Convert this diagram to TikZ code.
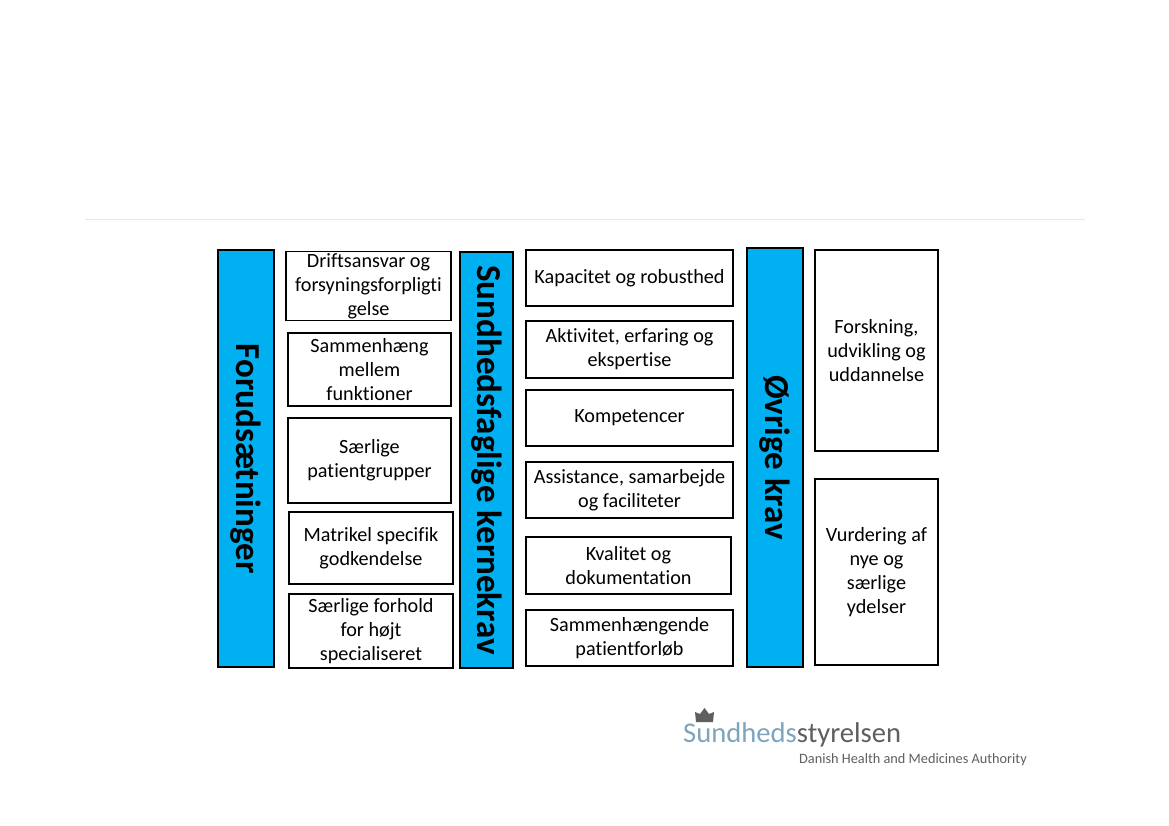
\documentclass[tikz,border=0pt]{standalone}
\usepackage{fontspec}
\setmainfont{Carlito}[Ligatures=NoCommon]
\usetikzlibrary{positioning}
\definecolor{bar}{RGB}{0,176,240}
\definecolor{rule}{RGB}{232,232,232}
\definecolor{logoblue}{RGB}{125,165,190}
\definecolor{logogray}{RGB}{95,95,95}

\begin{document}
\begin{tikzpicture}[
  x=1pt, y=-1pt,
  krav/.style={rectangle, draw=black, line width=1.4pt, fill=white, inner sep=0pt, align=center, font=\fontsize{20.2}{24}\selectfont},
  tema/.style={rectangle, draw=black, line width=1.4pt, fill=bar, inner sep=0pt, align=center, rotate=-90, font=\fontsize{35}{36}\selectfont\bfseries}
]
\useasboundingbox (0,0) rectangle (1169,826);
\fill[white] (0,0) rectangle (1169,826);

\coordinate (ruleleft) at (85,219);
\coordinate (ruleright) at (1085,219);
\draw[rule, line width=0.8pt] (ruleleft) -- (ruleright);

% blue bars
\node[tema, minimum width=417pt, minimum height=56pt] (forud) at (246,458.5) {Forudsætninger};
\node[tema, minimum width=416pt, minimum height=53pt] (sund) at (486.5,460) {Sundhedsfaglige kernekrav};
\node[tema, minimum width=419pt, minimum height=56pt] (ovrige) at (775,457.5) {Øvrige krav};

% first column
\node[krav, minimum width=165pt, minimum height=69pt] (drift) at (368.5,286) {Driftsansvar og\\forsyningsforpligti\\gelse};
\node[krav, minimum width=163pt, minimum height=73pt] (sammen) at (369.5,369.5) {Sammenhæng\\mellem\\funktioner};
\node[krav, minimum width=163pt, minimum height=85pt] (saerlige) at (369.5,460.5) {Særlige\\patientgrupper};
\node[krav, minimum width=164pt, minimum height=72pt] (matrikel) at (371,548) {Matrikel specifik\\godkendelse};
\node[krav, minimum width=164pt, minimum height=74pt] (forhold) at (371,631) {Særlige forhold\\for højt\\specialiseret};

% second column
\node[krav, minimum width=207pt, minimum height=56pt] (kapacitet) at (629.5,278) {Kapacitet og robusthed};
\node[krav, minimum width=207pt, minimum height=57pt] (aktivitet) at (629.5,349.5) {Aktivitet, erfaring og\\ekspertise};
\node[krav, minimum width=207pt, minimum height=56pt] (kompetencer) at (629.5,418) {Kompetencer};
\node[krav, minimum width=207pt, minimum height=56pt] (assistance) at (629.5,490) {Assistance, samarbejde\\og faciliteter};
\node[krav, minimum width=205pt, minimum height=57pt] (kvalitet) at (628.5,565.5) {Kvalitet og\\dokumentation};
\node[krav, minimum width=207pt, minimum height=56pt] (forloeb) at (629.5,638) {Sammenhængende\\patientforløb};

% third column
\node[krav, minimum width=123pt, minimum height=201pt] (forskning) at (876.5,350.5) {Forskning,\\udvikling og\\uddannelse};
\node[krav, minimum width=123pt, minimum height=186pt] (vurdering) at (876.5,572) {Vurdering af\\nye og\\særlige\\ydelser};

% logo
\node[inner sep=0pt, anchor=base west, font=\fontsize{28.6}{30}\selectfont] (logo) at (683,742) {\textcolor{logoblue}{Sundheds}\textcolor{logogray}{styrelsen}};
\node[inner sep=0pt, anchor=base east, text=logogray, font=\fontsize{14.3}{16}\selectfont] (logotext) at (1027,763) {Danish Health and Medicines Authority};
\fill[logogray] (696,722) -- (695,712) -- (700,714) -- (704.5,708) -- (709,714) -- (714,712) -- (713,722) -- cycle;
\end{tikzpicture}
\end{document}
